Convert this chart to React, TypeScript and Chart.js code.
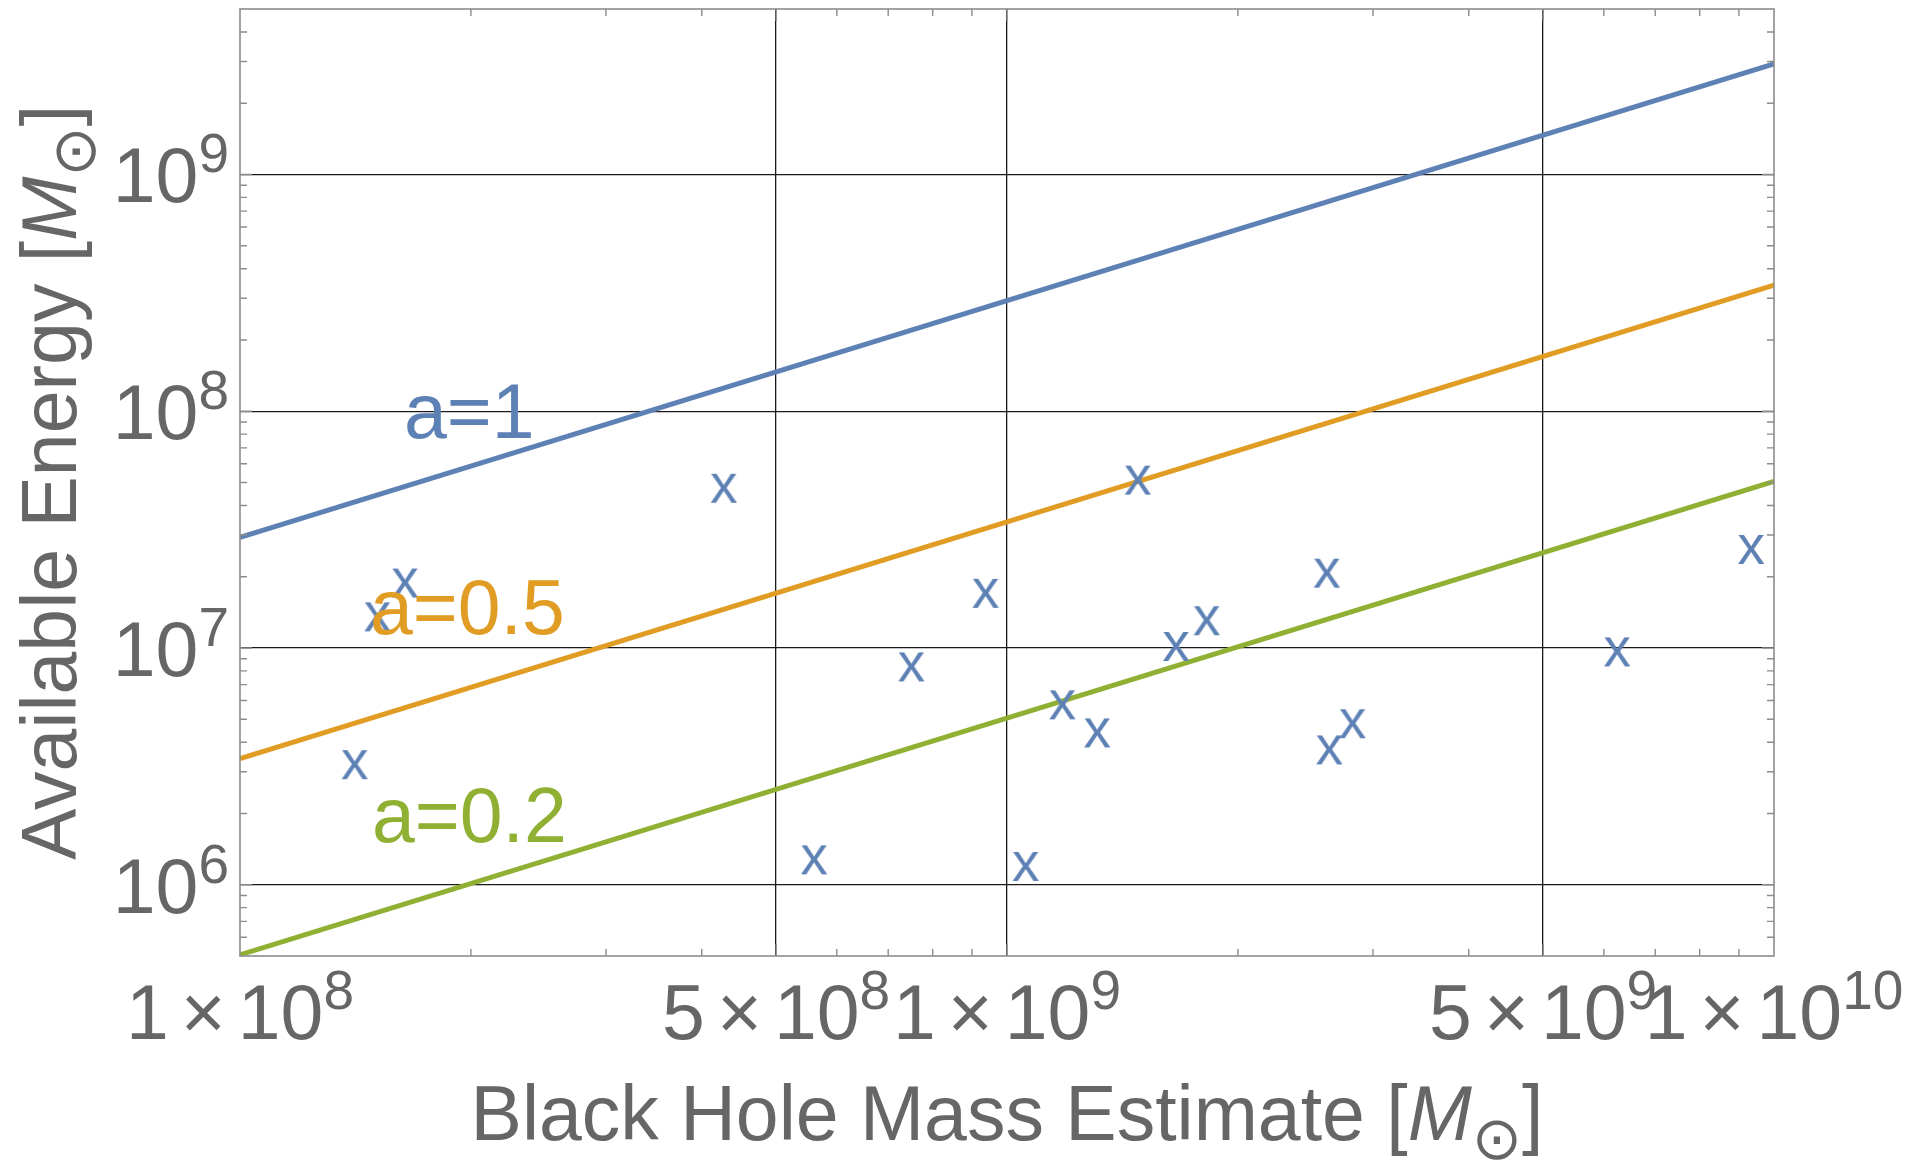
import React, { useEffect, useRef } from "react";
import { Chart, registerables } from "chart.js";

Chart.register(...registerables);

// ---------------- data ----------------
const massEstimates = [
  1.41e8, 1.51e8, 1.64e8, 4.27e8, 5.6e8, 7.5e8, 9.37e8, 1.057e9, 1.18e9,
  1.31e9, 1.48e9, 1.66e9, 1.82e9, 2.61e9, 2.63e9, 2.82e9, 6.24e9, 9.33e9,
];
const availableEnergy = [
  3.23e6, 1.36e7, 1.89e7, 4.75e7, 1.28e6, 8.36e6, 1.71e7, 1.2e6, 5.78e6,
  4.4e6, 5.14e7, 1.02e7, 1.31e7, 2.08e7, 3.73e6, 4.81e6, 9.67e6, 2.62e7,
];

const lineMass = [1e8, 1e10];
const energySpin1 = [2.93e7, 2.93e9];
const energySpin05 = [3.41e6, 3.41e8];
const energySpin02 = [5.06e5, 5.06e7];

const spinLabels = ["a=1", "a=0.5", "a=0.2"];

const xTickValues = [1e8, 5e8, 1e9, 5e9, 1e10];
const xTickMantissas = ["1", "5", "1", "5", "1"];
const xTickExponents = ["8", "8", "9", "9", "10"];
const yTickValues = [1e6, 1e7, 1e8, 1e9];
const yTickExponents = ["6", "7", "8", "9"];
const xGridValues = [5e8, 1e9, 5e9];
const yGridValues = [1e6, 1e7, 1e8, 1e9];
const xMinorTicks = [
  2e8, 3e8, 4e8, 6e8, 7e8, 8e8, 9e8, 2e9, 3e9, 4e9, 6e9, 7e9, 8e9, 9e9,
];
const yMinorTicks = [
  6e5, 7e5, 8e5, 9e5, 2e6, 3e6, 4e6, 5e6, 6e6, 7e6, 8e6, 9e6, 2e7, 3e7, 4e7,
  5e7, 6e7, 7e7, 8e7, 9e7, 2e8, 3e8, 4e8, 5e8, 6e8, 7e8, 8e8, 9e8, 2e9, 3e9,
  4e9,
];

const xRange = [1e8, 1e10];
const yRange = [5e5, 5e9];

const xTitle = "Black Hole Mass Estimate";
const yTitle = "Available Energy";

// ---------------- style ----------------
const BLUE = "#5E81B5";
const ORANGE = "#E19C24";
const GREEN = "#8FB032";
const TEXT = "#666666";
const FRAME = "#8c8c8c";
const FONT = '"Liberation Sans", Arial, sans-serif';
const BASE = 77;
const SUP = 55;
const SUP_RAISE = 30;
const labelColors = [BLUE, ORANGE, GREEN];
// label anchors (left/baseline) in data coordinates
const labelAnchors = [
  { x: 1.636e8, y: 7.73e7 },
  { x: 1.477e8, y: 1.141e7 },
  { x: 1.486e8, y: 1.514e6 },
];

function makeGlyph(): HTMLCanvasElement {
  const c = document.createElement("canvas");
  c.width = 44;
  c.height = 44;
  const g = c.getContext("2d")!;
  g.font = `55px ${FONT}`;
  g.fillStyle = BLUE;
  g.textAlign = "center";
  const m = g.measureText("x");
  const asc = m.actualBoundingBoxAscent || 28;
  const desc = m.actualBoundingBoxDescent || 0;
  const l = m.actualBoundingBoxLeft || 0;
  const r = m.actualBoundingBoxRight || 0;
  g.fillText("x", 22 + (l - r) / 2, 22 + (asc - desc) / 2);
  return c;
}

type Part = { t: string; font: string; dy: number; gapAfter?: number; center?: boolean };

function partsWidth(ctx: CanvasRenderingContext2D, parts: Part[]) {
  let w = 0;
  for (const p of parts) {
    ctx.font = p.font;
    w += ctx.measureText(p.t).width + (p.gapAfter || 0);
  }
  return w;
}

function drawParts(ctx: CanvasRenderingContext2D, parts: Part[], x: number, baseline: number) {
  let cx = x;
  for (const p of parts) {
    ctx.font = p.font;
    const m = ctx.measureText(p.t);
    let y = baseline + p.dy;
    if (p.center) {
      const asc = m.actualBoundingBoxAscent;
      const desc = m.actualBoundingBoxDescent;
      y = baseline + (asc - desc) / 2;
    }
    ctx.fillText(p.t, cx, y);
    cx += m.width + (p.gapAfter || 0);
  }
}

function powerParts(mant: string | null, exp: string): Part[] {
  const base = `${BASE}px ${FONT}`;
  const sup = `${SUP}px ${FONT}`;
  const parts: Part[] = [];
  if (mant !== null) {
    parts.push({ t: mant, font: base, dy: 0, gapAfter: 12 });
    parts.push({ t: "\u00D7", font: base, dy: 0, gapAfter: 12 });
  }
  parts.push({ t: "10", font: base, dy: 0 });
  parts.push({ t: exp, font: sup, dy: -SUP_RAISE });
  return parts;
}

function titleParts(text: string): Part[] {
  return [
    { t: text + " [", font: `${BASE}px ${FONT}`, dy: 0 },
    { t: "M", font: `italic ${BASE}px ${FONT}`, dy: 0 },
    { t: "\u2299", font: `60px "DejaVu Sans", sans-serif`, dy: 0, center: true },
    { t: "]", font: `${BASE}px ${FONT}`, dy: 0 },
  ];
}

const decorPlugin = {
  id: "decor",
  afterDraw(chart: any) {
    const ctx: CanvasRenderingContext2D = chart.ctx;
    const { left, right, top, bottom } = chart.chartArea;
    const xs = chart.scales.x;
    const ys = chart.scales.y;
    ctx.save();

    // frame
    ctx.strokeStyle = FRAME;
    ctx.lineWidth = 1.6;
    ctx.strokeRect(left, top, right - left, bottom - top);

    // ticks
    ctx.lineWidth = 1.4;
    const tickX = (v: number, len: number) => {
      const px = xs.getPixelForValue(v);
      ctx.beginPath();
      ctx.moveTo(px, bottom);
      ctx.lineTo(px, bottom - len);
      ctx.moveTo(px, top);
      ctx.lineTo(px, top + len);
      ctx.stroke();
    };
    const tickY = (v: number, len: number) => {
      const py = ys.getPixelForValue(v);
      ctx.beginPath();
      ctx.moveTo(left, py);
      ctx.lineTo(left + len, py);
      ctx.moveTo(right, py);
      ctx.lineTo(right - len, py);
      ctx.stroke();
    };
    xMinorTicks.forEach((v) => tickX(v, 7));
    xGridValues.forEach((v) => tickX(v, 12));
    yMinorTicks.forEach((v) => tickY(v, 7));
    yGridValues.forEach((v) => tickY(v, 12));

    // tick labels
    ctx.fillStyle = TEXT;
    ctx.textAlign = "left";
    ctx.textBaseline = "alphabetic";
    xTickValues.forEach((v, i) => {
      const px = xs.getPixelForValue(v);
      const parts = powerParts(xTickMantissas[i], xTickExponents[i]);
      const w = partsWidth(ctx, parts);
      drawParts(ctx, parts, px - w / 2, bottom + 83);
    });
    yTickValues.forEach((v, i) => {
      const py = ys.getPixelForValue(v);
      const parts = powerParts(null, yTickExponents[i]);
      const w = partsWidth(ctx, parts);
      drawParts(ctx, parts, left - 11 - w, py + 28);
    });

    // x title
    {
      const parts = titleParts(xTitle);
      const w = partsWidth(ctx, parts);
      drawParts(ctx, parts, (left + right) / 2 - w / 2, 1140);
    }
    // y title
    {
      const parts = titleParts(yTitle);
      const w = partsWidth(ctx, parts);
      ctx.save();
      ctx.translate(76, (top + bottom) / 2);
      ctx.rotate(-Math.PI / 2);
      drawParts(ctx, parts, -w / 2, 0);
      ctx.restore();
    }

    // spin labels
    ctx.font = `${BASE}px ${FONT}`;
    spinLabels.forEach((t, i) => {
      ctx.fillStyle = labelColors[i];
      ctx.fillText(
        t,
        xs.getPixelForValue(labelAnchors[i].x),
        ys.getPixelForValue(labelAnchors[i].y)
      );
    });

    ctx.restore();
  },
};

export default function App() {
  const ref = useRef<HTMLCanvasElement>(null);

  useEffect(() => {
    document.body.style.margin = "0";
    document.body.style.overflow = "hidden";
    const canvas = ref.current!;
    const glyph = makeGlyph();

    const lineSet = (label: string, ys: number[], color: string) => ({
      label,
      data: lineMass.map((m, i) => ({ x: m, y: ys[i] })),
      showLine: true,
      borderColor: color,
      backgroundColor: color,
      borderWidth: 5,
      pointRadius: 0,
      tension: 0,
    });

    const chart = new Chart(canvas, {
      type: "scatter",
      data: {
        datasets: [
          {
            label: "Black holes",
            data: massEstimates.map((m, i) => ({ x: m, y: availableEnergy[i] })),
            pointStyle: glyph as any,
            pointRadius: 14,
            borderWidth: 0,
            showLine: false,
            clip: false,
          } as any,
          lineSet(spinLabels[0], energySpin1, BLUE),
          lineSet(spinLabels[1], energySpin05, ORANGE),
          lineSet(spinLabels[2], energySpin02, GREEN),
        ],
      },
      options: {
        animation: false,
        responsive: false,
        devicePixelRatio: 1,
        events: [],
        layout: {
          autoPadding: false,
          padding: { left: 240, right: 151, top: 9, bottom: 204 },
        },
        plugins: { legend: { display: false }, tooltip: { enabled: false } },
        scales: {
          x: {
            type: "logarithmic",
            min: xRange[0],
            max: xRange[1],
            bounds: "data",
            ticks: { display: false },
            grid: { drawTicks: false, color: "#1a1a1a", lineWidth: 1.3 },
            border: { display: false },
            afterBuildTicks: (s: any) => {
              s.ticks = xGridValues.map((v) => ({ value: v }));
            },
            afterFit: (s: any) => {
              s.height = 0;
            },
          } as any,
          y: {
            type: "logarithmic",
            min: yRange[0],
            max: yRange[1],
            bounds: "data",
            ticks: { display: false },
            grid: { drawTicks: false, color: "#1a1a1a", lineWidth: 1.3 },
            border: { display: false },
            afterBuildTicks: (s: any) => {
              s.ticks = yGridValues.map((v) => ({ value: v }));
            },
            afterFit: (s: any) => {
              s.width = 0;
            },
          } as any,
        },
      },
      plugins: [decorPlugin],
    });

    return () => chart.destroy();
  }, []);

  return (
    <div style={{ width: 1925, height: 1160 }}>
      <canvas
        ref={ref}
        width={1925}
        height={1160}
        style={{ display: "block", width: 1925, height: 1160 }}
      />
    </div>
  );
}
